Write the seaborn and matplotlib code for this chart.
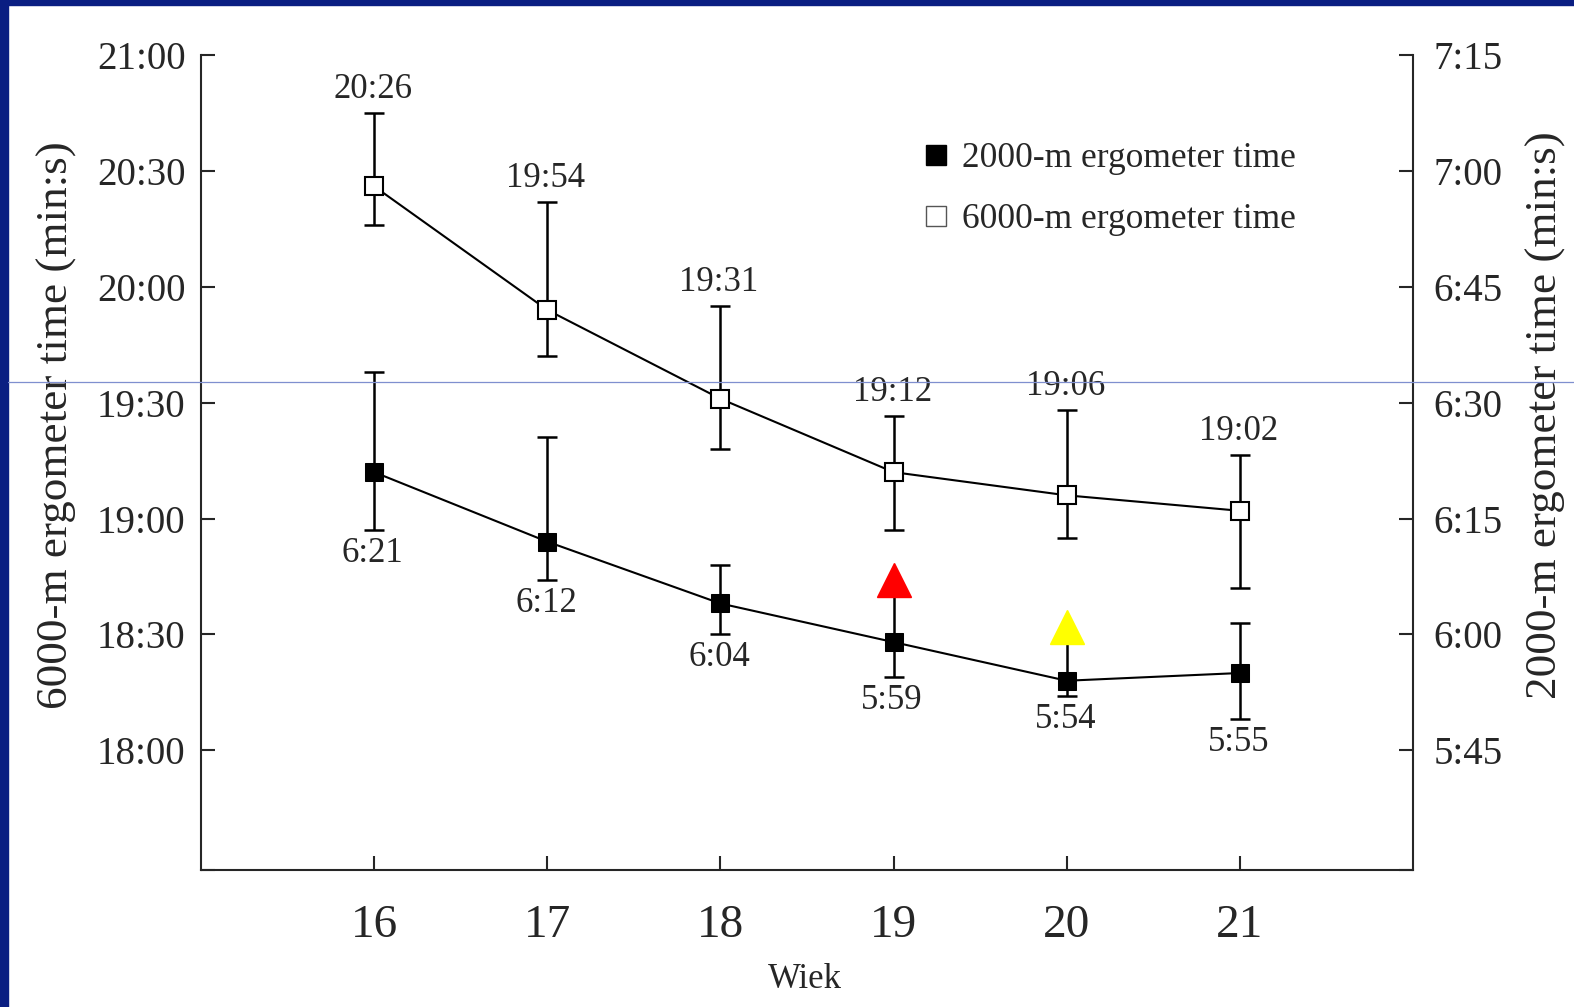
import numpy as np
import pandas as pd
import matplotlib
matplotlib.use("Agg")
import matplotlib.pyplot as plt
import seaborn as sns
from matplotlib.lines import Line2D
from matplotlib.patches import Rectangle

# values (times in seconds)
ages = [16, 17, 18, 19, 20, 21]
t6000 = [1226, 1194, 1171, 1152, 1146, 1142]
t6000_hi = [1245, 1222, 1195, 1166.5, 1168, 1156.5]
t6000_lo = [1216, 1182, 1158, 1137, 1135, 1122]
t2000 = [381, 372, 364, 359, 354, 355]
t2000_hi = [394, 385.5, 369, 365, 359.5, 361.5]
t2000_lo = [373.5, 367, 360, 354.5, 352, 349]

tri_ages = [19, 20]
tri_times = [367, 361]
tri_colors = ["#ff0000", "#ffff00"]

left_ticks = [1080, 1110, 1140, 1170, 1200, 1230, 1260]
right_ticks = [345, 360, 375, 390, 405, 420, 435]


def mmss(v):
    v = int(round(v))
    return f"{v // 60}:{v % 60:02d}"


sns.set_style("ticks")
plt.rcParams["font.family"] = ["Liberation Serif", "DejaVu Serif"]

df = pd.DataFrame({"age": ages, "t6000": t6000, "t2000": t2000})

fig = plt.figure(figsize=(15.74, 10.07), dpi=100)
fig.patch.set_facecolor("white")
ax = fig.add_axes([201 / 1574, 137 / 1007, 1212 / 1574, 815 / 1007])
ax2 = ax.twinx()

# 6000 m (left axis)
err6 = [np.array(t6000) - np.array(t6000_lo), np.array(t6000_hi) - np.array(t6000)]
ax.errorbar(ages, t6000, yerr=err6, fmt="none", ecolor="black", elinewidth=1.8,
            capsize=7.5, capthick=1.8, zorder=2)
sns.lineplot(data=df, x="age", y="t6000", ax=ax, color="black", linewidth=1.5,
             marker="s", markersize=12.5, markerfacecolor="white",
             markeredgecolor="black", markeredgewidth=1.5, zorder=3)

# 2000 m (right axis)
err2 = [np.array(t2000) - np.array(t2000_lo), np.array(t2000_hi) - np.array(t2000)]
ax2.errorbar(ages, t2000, yerr=err2, fmt="none", ecolor="black", elinewidth=1.8,
             capsize=7.5, capthick=1.8, zorder=2)
sns.lineplot(data=df, x="age", y="t2000", ax=ax2, color="black", linewidth=1.5,
             marker="s", markersize=12.5, markerfacecolor="black",
             markeredgecolor="black", zorder=3)
for a, t, c in zip(tri_ages, tri_times, tri_colors):
    ax2.plot([a], [t], marker="^", markersize=25, color=c, linestyle="none", zorder=4)

for a, t, hi in zip(ages, t6000, t6000_hi):
    ax.annotate(mmss(t), (a, hi), xytext=(-1, 17), textcoords="offset points",
                ha="center", va="center", fontsize=25)
for a, t, lo in zip(ages, t2000, t2000_lo):
    ax2.annotate(mmss(t), (a, lo), xytext=(-1, -17), textcoords="offset points",
                 ha="center", va="center", fontsize=25)

ax.set_xlim(15, 22)
ax.set_ylim(1049, 1260)
ax2.set_ylim(329.5, 435)

ax.set_xticks(ages)
ax.set_xticklabels([str(a) for a in ages], fontsize=34)
ax.set_yticks([1049] + left_ticks)
ax.set_yticklabels([""] + [mmss(v) for v in left_ticks], fontsize=28)
ax2.set_yticks([329.5] + right_ticks)
ax2.set_yticklabels([""] + [mmss(v) for v in right_ticks], fontsize=28)

ax.tick_params(axis="x", direction="in", length=10, width=1.5, pad=25)
ax.tick_params(axis="y", direction="in", length=10, width=1.5, pad=11)
ax2.tick_params(axis="y", direction="in", length=10, width=1.5, pad=15)

for s in ["top", "right"]:
    ax.spines[s].set_visible(False)
for s in ["top", "left", "bottom"]:
    ax2.spines[s].set_visible(False)
for s in ["left", "bottom"]:
    ax.spines[s].set_linewidth(1.5)
ax2.spines["right"].set_linewidth(1.5)

ax.set_xlabel("Wiek", fontsize=25)
ax.xaxis.set_label_coords(0.498, -0.114)
ax.set_ylabel("6000-m ergometer time (min:s)", fontsize=32.5, va="center")
ax.yaxis.set_label_coords((57 - 201) / 1212, 0.546)
ax2.set_ylabel("2000-m ergometer time (min:s)", fontsize=32.5, va="center")
ax2.yaxis.set_label_coords((1546 - 201) / 1212, 0.558)

handles = [
    Line2D([], [], marker="s", linestyle="none", markersize=15,
           markerfacecolor="black", markeredgecolor="black"),
    Line2D([], [], marker="s", linestyle="none", markersize=15,
           markerfacecolor="white", markeredgecolor="#555555", markeredgewidth=1),
]
ax2.legend(handles, ["2000-m ergometer time", "6000-m ergometer time"],
           loc="upper left", bbox_to_anchor=(0.58, 0.915), frameon=False,
           fontsize=25.5, handlelength=0.8, handletextpad=0.35, labelspacing=0.8,
           borderpad=0)

# navy frame of the slide and the thin guide line
fig.add_artist(Rectangle((0, 0), 8 / 1574, 1, transform=fig.transFigure,
                         color="#0a1e82", zorder=10))
fig.add_artist(Rectangle((0, 1 - 5 / 1007), 1, 5 / 1007, transform=fig.transFigure,
                         color="#0a1e82", zorder=10))
fig.add_artist(Line2D([8 / 1574, 1], [1 - 382 / 1007] * 2, transform=fig.transFigure,
                      color="#7f8fcf", linewidth=0.9, zorder=10))

fig.savefig("out.png", dpi=100)
